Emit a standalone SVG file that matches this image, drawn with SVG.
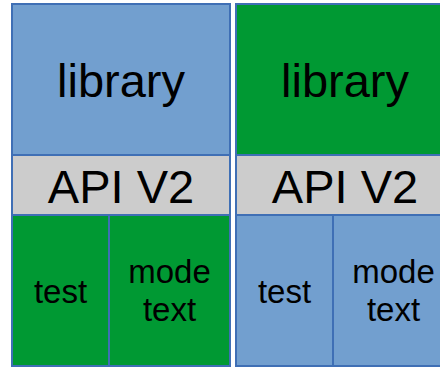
<svg xmlns="http://www.w3.org/2000/svg" width="440" height="367" viewBox="0 0 440 367">
<style>
rect{stroke:#3f6fb5;stroke-width:2}
.b{fill:#729fcf}
.g{fill:#009933}
.y{fill:#cccccc}
text{font-family:"Liberation Sans",Arial,sans-serif;fill:#000;text-anchor:middle}
.l{font-size:47px}
.s{font-size:33px}
</style>
<rect width="440" height="367" fill="#fff" style="stroke:none"/>
<g id="left-library"><rect class="b" x="12" y="4" width="218" height="151"/><text class="l" x="121" y="97">library</text></g>
<g id="left-api"><rect class="y" x="12" y="155" width="218" height="60"/><text class="l" x="121" y="203">API V2</text></g>
<g id="left-test"><rect class="g" x="12" y="215" width="97" height="151"/><text class="s" x="60.5" y="303">test</text></g>
<g id="left-mode"><rect class="g" x="109" y="215" width="121" height="151"/><text class="s" x="169.5" y="283">mode</text><text class="s" x="169.5" y="321">text</text></g>
<g id="right-library"><rect class="g" x="236" y="4" width="218" height="151"/><text class="l" x="345" y="97">library</text></g>
<g id="right-api"><rect class="y" x="236" y="155" width="218" height="60"/><text class="l" x="345" y="203">API V2</text></g>
<g id="right-test"><rect class="b" x="236" y="215" width="97" height="151"/><text class="s" x="284.5" y="303">test</text></g>
<g id="right-mode"><rect class="b" x="333" y="215" width="121" height="151"/><text class="s" x="393.5" y="283">mode</text><text class="s" x="393.5" y="321">text</text></g>
</svg>
